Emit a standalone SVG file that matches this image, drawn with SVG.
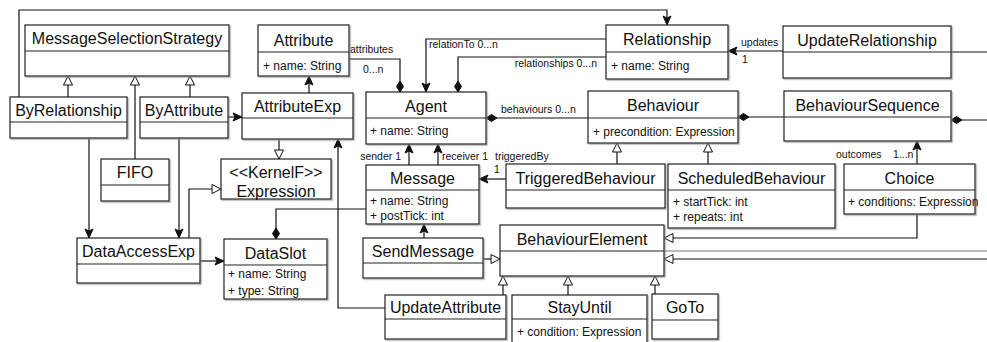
<svg xmlns="http://www.w3.org/2000/svg" width="987" height="342" viewBox="0 0 987 342">
<style>
  .box{fill:#fff;stroke:#222;stroke-width:1.2;filter:url(#sh)}
  .div{stroke:#222;stroke-width:1.2;fill:none}
  .n{font-family:"Liberation Sans",Arial,sans-serif;font-size:16px;fill:#111;text-anchor:middle}
  .a{font-family:"Liberation Sans",Arial,sans-serif;font-size:12px;fill:#111}
  .l{font-family:"Liberation Sans",Arial,sans-serif;font-size:10.5px;fill:#111}
  .c{fill:none;stroke:#111;stroke-width:1.2}
</style>
<defs>
  <filter id="sh" x="-10%" y="-10%" width="130%" height="130%">
    <feDropShadow dx="1.2" dy="1.2" stdDeviation="0.4" flood-color="#888" flood-opacity="0.7"/>
  </filter>
  <marker id="arr" markerUnits="userSpaceOnUse" viewBox="-1 -5 11 10" refX="9" refY="0" markerWidth="11" markerHeight="10" orient="auto">
    <path d="M0,-4 L9,0 L0,4 L2,0 Z" fill="#111" stroke="#111" stroke-width="1"/>
  </marker>
  <marker id="dia" markerUnits="userSpaceOnUse" viewBox="-1 -5 14 10" refX="0" refY="0" markerWidth="14" markerHeight="10" orient="auto">
    <path d="M0,0 L5.5,-3.5 L11,0 L5.5,3.5 Z" fill="#111" stroke="#111" stroke-width="1"/>
  </marker>
  <marker id="tri" markerUnits="userSpaceOnUse" viewBox="-1 -6 11 12" refX="9" refY="0" markerWidth="11" markerHeight="12" orient="auto">
    <path d="M0,-4.5 L9,0 L0,4.5 Z" fill="#fff" stroke="#111" stroke-width="1"/>
  </marker>
</defs>
<rect width="987" height="342" fill="#fff"/>

<g id="connectors">
  <path class="c" d="M19,97 V10 H667 V25" marker-end="url(#arr)"/>
  <path class="c" d="M68,97 V76" marker-end="url(#tri)"/>
  <path class="c" d="M135,159 V76" marker-end="url(#tri)"/>
  <path class="c" d="M190,97 V76" marker-end="url(#tri)"/>
  <path class="c" d="M228,117 H242" marker-end="url(#arr)"/>
  <path class="c" d="M89,138 V238" marker-end="url(#arr)"/>
  <path class="c" d="M179,138 V238" marker-end="url(#arr)"/>
  <path class="c" d="M189,238 V189 H221" marker-end="url(#tri)"/>
  <path class="c" d="M200,261 H224" marker-end="url(#arr)"/>
  <path class="c" d="M309,93 V76" marker-end="url(#arr)"/>
  <path class="c" d="M279,139 V159" marker-end="url(#tri)"/>
  <path class="c" d="M400,92 V59 H349" marker-start="url(#dia)"/>
  <text class="l" x="350" y="53">attributes</text>
  <text class="l" x="363" y="73">0...n</text>
  <path class="c" d="M606,39 H426 V92" marker-end="url(#arr)"/>
  <text class="l" x="429" y="48">relationTo 0...n</text>
  <path class="c" d="M458,92 V57 H606" marker-start="url(#dia)"/>
  <text class="l" x="597" y="67" text-anchor="end">relationships 0...n</text>
  <path class="c" d="M783,51 H728" marker-end="url(#arr)"/>
  <text class="l" x="741" y="46" font-size="9.5">updates</text>
  <text class="l" x="742" y="63" font-size="9.5">1</text>
  <path class="c" d="M951,52 H987"/>
  <path class="c" d="M486,118 H588" marker-start="url(#dia)"/>
  <text class="l" x="501" y="113">behaviours 0...n</text>
  <path class="c" d="M738,117 H784" marker-start="url(#dia)"/>
  <path class="c" d="M951,120 H987" marker-start="url(#dia)"/>
  <path class="c" d="M917,164 V141" marker-end="url(#arr)"/>
  <text class="l" x="836" y="158">outcomes</text>
  <text class="l" x="893" y="158">1...n</text>
  <path class="c" d="M917,214 V238 H664" marker-end="url(#tri)"/>
  <path class="c" d="M664,251 H987" style="stroke:#777"/>
  <path class="c" d="M987,259 H664" marker-end="url(#tri)"/>
  <path class="c" d="M617,164 V143" marker-end="url(#tri)"/>
  <path class="c" d="M708,164 V143" marker-end="url(#tri)"/>
  <path class="c" d="M506,179 H479" marker-end="url(#arr)"/>
  <text class="l" x="495" y="160">triggeredBy</text>
  <text class="l" x="494" y="173">1</text>
  <path class="c" d="M409,165 V144" marker-end="url(#arr)"/>
  <text class="l" x="401" y="160" text-anchor="end">sender 1</text>
  <path class="c" d="M438,165 V144" marker-end="url(#arr)"/>
  <text class="l" x="442" y="160">receiver 1</text>
  <path class="c" d="M276,239 V209 H366" marker-start="url(#dia)"/>
  <path class="c" d="M424,238 V224" marker-end="url(#arr)"/>
  <path class="c" d="M483,259 H500" marker-end="url(#tri)"/>
  <path class="c" d="M385,308 H338 V139" marker-end="url(#arr)"/>
  <path class="c" d="M503,295 V276" marker-end="url(#tri)"/>
  <path class="c" d="M568,295 V276" marker-end="url(#tri)"/>
  <path class="c" d="M655,294 V276" marker-end="url(#tri)"/>
</g>

<g id="MessageSelectionStrategy">
  <rect class="box" x="25" y="25" width="204" height="51"/>
  <path class="div" d="M25,51 H229"/>
  <text class="n" x="127" y="44">MessageSelectionStrategy</text>
</g>
<g id="ByRelationship">
  <rect class="box" x="10" y="97" width="117" height="41"/>
  <path class="div" d="M10,122 H127"/>
  <text class="n" x="68.5" y="116">ByRelationship</text>
</g>
<g id="ByAttribute">
  <rect class="box" x="140" y="97" width="88" height="41"/>
  <path class="div" d="M140,122 H228"/>
  <text class="n" x="184" y="116">ByAttribute</text>
</g>
<g id="FIFO">
  <rect class="box" x="101" y="159" width="68" height="42"/>
  <path class="div" d="M101,185 H169"/>
  <text class="n" x="135" y="178">FIFO</text>
</g>
<g id="DataAccessExp">
  <rect class="box" x="77" y="238" width="123" height="45"/>
  <path class="div" d="M77,264 H200"/>
  <text class="n" x="138.5" y="257">DataAccessExp</text>
</g>
<g id="DataSlot">
  <rect class="box" x="224" y="239" width="103" height="60"/>
  <path class="div" d="M224,265 H327"/>
  <text class="n" x="275.5" y="259" font-size="17.5">DataSlot</text>
  <text class="a" x="228" y="278" font-size="11">+ name: String</text>
  <text class="a" x="228" y="295" font-size="11">+ type: String</text>
</g>
<g id="Attribute">
  <rect class="box" x="258" y="25" width="91" height="51"/>
  <path class="div" d="M258,52 H349"/>
  <text class="n" x="303.5" y="46" font-size="17.5">Attribute</text>
  <text class="a" x="263" y="70">+ name: String</text>
</g>
<g id="AttributeExp">
  <rect class="box" x="242" y="93" width="111" height="46"/>
  <path class="div" d="M242,118 H353"/>
  <text class="n" x="297.5" y="112" font-size="17.5">AttributeExp</text>
</g>
<g id="Expression">
  <rect class="box" x="221" y="159" width="110" height="40"/>
  <text class="n" x="276" y="178">&lt;&lt;KernelF&gt;&gt;</text>
  <text class="n" x="276" y="197">Expression</text>
</g>
<g id="Agent">
  <rect class="box" x="366" y="92" width="120" height="52"/>
  <path class="div" d="M366,118 H486"/>
  <text class="n" x="426" y="112" font-size="17.5">Agent</text>
  <text class="a" x="370" y="135">+ name: String</text>
</g>
<g id="Message">
  <rect class="box" x="366" y="165" width="113" height="59"/>
  <path class="div" d="M366,190 H479"/>
  <text class="n" x="422.5" y="184" font-size="17.5">Message</text>
  <text class="a" x="370" y="205">+ name: String</text>
  <text class="a" x="370" y="220">+ postTick: int</text>
</g>
<g id="Relationship">
  <rect class="box" x="606" y="25" width="122" height="54"/>
  <path class="div" d="M606,52 H728"/>
  <text class="n" x="667" y="45" font-size="16.6">Relationship</text>
  <text class="a" x="611" y="70">+ name: String</text>
</g>
<g id="UpdateRelationship">
  <rect class="box" x="783" y="26" width="168" height="52"/>
  <path class="div" d="M783,52 H951"/>
  <text class="n" x="867" y="46" font-size="17.7">UpdateRelationship</text>
</g>
<g id="Behaviour">
  <rect class="box" x="588" y="91" width="150" height="52"/>
  <path class="div" d="M588,118 H738"/>
  <text class="n" x="663" y="111" font-size="16.5">Behaviour</text>
  <text class="a" x="593" y="136">+ precondition: Expression</text>
</g>
<g id="BehaviourSequence">
  <rect class="box" x="784" y="91" width="167" height="50"/>
  <path class="div" d="M784,117 H951"/>
  <text class="n" x="867.5" y="111" font-size="17.8">BehaviourSequence</text>
</g>
<g id="Choice">
  <rect class="box" x="844" y="164" width="131" height="50"/>
  <path class="div" d="M844,190 H975"/>
  <text class="n" x="909.5" y="184" font-size="17">Choice</text>
  <text class="a" x="848" y="206" font-size="11">+ conditions: Expression</text>
</g>
<g id="TriggeredBehaviour">
  <rect class="box" x="506" y="164" width="159" height="44"/>
  <path class="div" d="M506,190 H665"/>
  <text class="n" x="585.5" y="184" font-size="16.7">TriggeredBehaviour</text>
</g>
<g id="ScheduledBehaviour">
  <rect class="box" x="668" y="164" width="167" height="64"/>
  <path class="div" d="M668,190 H835"/>
  <text class="n" x="751.5" y="184" font-size="16.7">ScheduledBehaviour</text>
  <text class="a" x="673" y="206" font-size="9.5">+ startTick: int</text>
  <text class="a" x="673" y="221" font-size="9.5">+ repeats: int</text>
</g>
<g id="SendMessage">
  <rect class="box" x="363" y="238" width="120" height="40"/>
  <path class="div" d="M363,263 H483"/>
  <text class="n" x="423" y="257" font-size="17.5">SendMessage</text>
</g>
<g id="BehaviourElement">
  <rect class="box" x="500" y="225" width="164" height="51"/>
  <path class="div" d="M500,251 H664"/>
  <text class="n" x="582" y="245" font-size="17.5">BehaviourElement</text>
</g>
<g id="UpdateAttribute">
  <rect class="box" x="385" y="295" width="121" height="44"/>
  <path class="div" d="M385,319 H506"/>
  <text class="n" x="445.5" y="313" font-size="16.8">UpdateAttribute</text>
</g>
<g id="StayUntil">
  <rect class="box" x="512" y="295" width="135" height="52"/>
  <path class="div" d="M512,319 H647"/>
  <text class="n" x="579.5" y="313" font-size="17.5">StayUntil</text>
  <text class="a" x="517" y="336">+ condition: Expression</text>
</g>
<g id="GoTo">
  <rect class="box" x="652" y="294" width="66" height="45"/>
  <path class="div" d="M652,320 H718"/>
  <text class="n" x="685" y="313" font-size="17.5">GoTo</text>
</g>
</svg>
